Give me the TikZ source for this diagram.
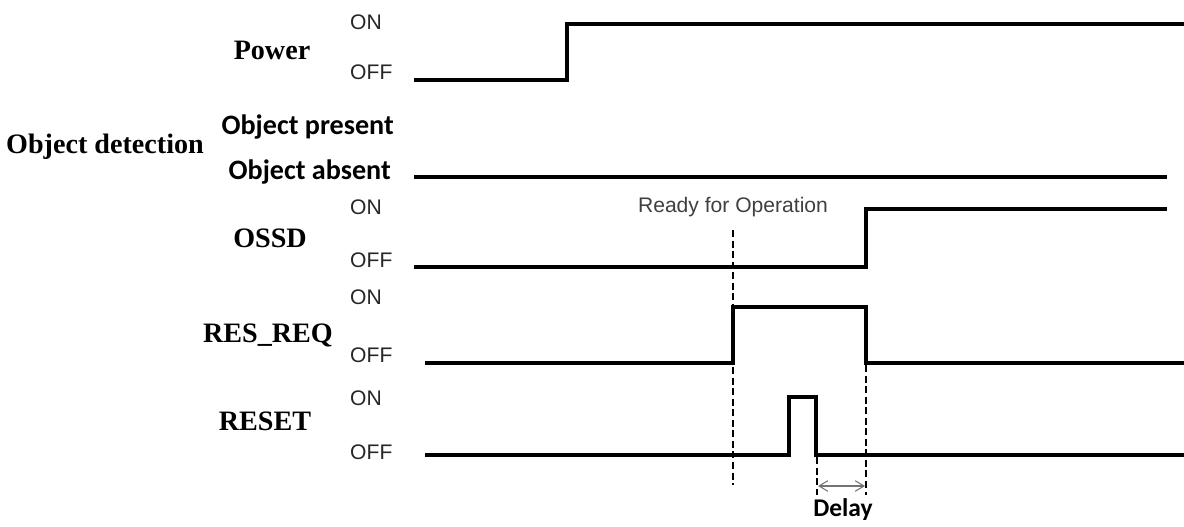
\documentclass[tikz,border=0pt]{standalone}
\usepackage{fontspec}
\setmainfont{Liberation Serif}
\newfontfamily\arialfont{Liberation Sans}
\newfontfamily\calibrifont{Carlito}
\usetikzlibrary{positioning,arrows.meta}
\tikzset{
  signame/.style={font=\fontsize{16}{18}\selectfont\bfseries},
  level/.style={anchor=west, font=\arialfont\fontsize{12}{14}\selectfont, text=black!85},
  objstate/.style={anchor=east, font=\calibrifont\fontsize{16}{18}\selectfont\bfseries},
  wave/.style={line width=2.2pt, line join=miter},
  marker/.style={dash pattern=on 4pt off 2pt, line width=0.7pt}
}

\begin{document}
\begin{tikzpicture}[x=0.2mm,y=-0.2mm]
        \useasboundingbox (0,0) rectangle (1184,526);
        % Power
        \node[signame] (pwr) at (272,50) {Power};
        \node[level] (pwron) at (344,22) {ON};
        \node[level] (pwroff) at (344,72) {OFF};
        \draw[wave] (414,80)--(567,80)--(567,24)--(1184,24);
        % Object detection
        \node[signame, anchor=west] (obj) at (0,147) {Object detection};
        \node[objstate] (objpres) at (400,127) {Object present};
        \node[objstate] (objabs) at (397,172) {Object absent};
        \draw[wave] (414,177)--(1167,177);
        % OSSD
        \node[signame] (ossd) at (270,238) {OSSD};
        \node[level] (ossdon) at (344,207) {ON};
        \node[level] (ossdoff) at (344,260) {OFF};
        \draw[wave, line width=2.8pt] (414,267)--(866,267)--(866,209)--(1167,209);
        \node[font=\arialfont\fontsize{12}{14}\selectfont, text=black!75] (ready) at (733,207) {Ready for Operation};
        % RES_REQ
        \node[signame] (resreq) at (268,335) {RES\_REQ};
        \node[level] (reqon) at (344,297) {ON};
        \node[level] (reqoff) at (344,355) {OFF};
        \draw[wave, line width=2.5pt] (425,363)--(733,363)--(733,307)--(866,307)--(866,363)--(1184,363);
        % RESET
        \node[signame] (reset) at (265,421) {RESET};
        \node[level] (reseton) at (344,398) {ON};
        \node[level] (resetoff) at (344,452) {OFF};
        \draw[wave] (425,455)--(789,455)--(789,397)--(816,397)--(816,455)--(1184,455);
        % timing marks
        \coordinate (rdytop) at (733,230);
        \coordinate (rdybot) at (733,485);
        \coordinate (dlyend) at (866,365);
        \coordinate (dlyendbot) at (866,495);
        \coordinate (dlystart) at (817,457);
        \coordinate (dlystartbot) at (817,495);
        \draw[marker] (rdytop)--(rdybot);
        \draw[marker] (dlyend)--(dlyendbot);
        \draw[marker] (dlystart)--(dlystartbot);
        \draw[{Straight Barb[length=5pt,width=6pt]}-{Straight Barb[length=5pt,width=6pt]}, black!55, line width=0.6pt] (818,486)--(865,486);
        \node[font=\calibrifont\fontsize{14.5}{16}\selectfont\bfseries] (delay) at (843,510) {Delay};
\end{tikzpicture}
\end{document}
